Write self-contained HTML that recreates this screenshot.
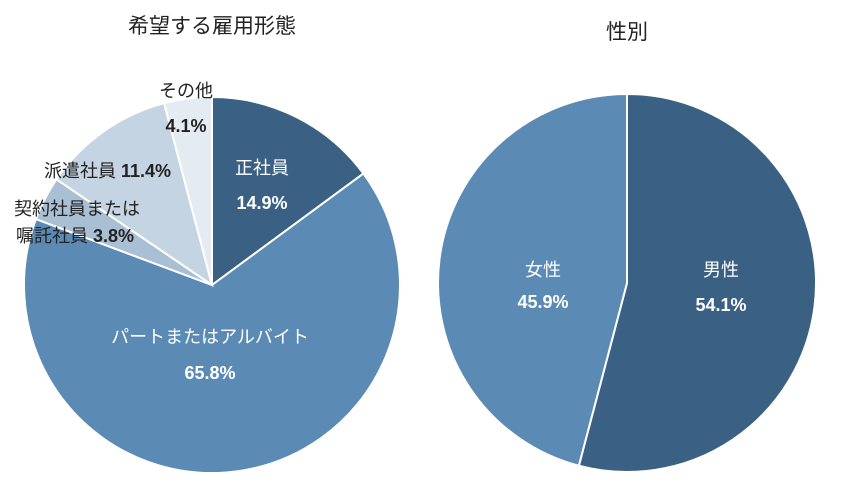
<!DOCTYPE html>
<html><head><meta charset="utf-8"><style>
body{margin:0;background:#fff;width:849px;height:494px;overflow:hidden;font-family:"Liberation Sans","Noto Sans CJK JP",sans-serif}
svg text{font-family:"Liberation Sans","Noto Sans CJK JP",sans-serif}
</style></head><body>
<svg id="c" width="849" height="494">
<text x="212" y="33" text-anchor="middle" font-size="21" fill="#222">希望する雇用形態</text>
<text x="627" y="39" text-anchor="middle" font-size="21" fill="#222">性別</text>
</svg>
<script>
const empCategories=["正社員","パートまたはアルバイト","契約社員または嘱託社員","派遣社員","その他"];
const empValues=[14.9,65.8,3.8,11.4,4.1];
const genderCategories=["男性","女性"];
const genderValues=[54.1,45.9];
const empColors=["#3a6184","#5b8bb5","#a9bfd4","#c4d4e3","#e4ebf3"];
const genderColors=["#3a6184","#5b8bb5"];
const svg=document.getElementById('c');
const NS="http://www.w3.org/2000/svg";
function pie(vals,cats,colors,cx,cy,r,prefix){
  const tot=vals.reduce((a,b)=>a+b,0);let a0=0;
  vals.forEach((v,i)=>{
    const a1=a0+v/tot*2*Math.PI;
    const x0=cx+r*Math.sin(a0),y0=cy-r*Math.cos(a0),x1=cx+r*Math.sin(a1),y1=cy-r*Math.cos(a1);
    const p=document.createElementNS(NS,'path');
    p.setAttribute('d',`M${cx},${cy}L${x0},${y0}A${r},${r} 0 ${a1-a0>Math.PI?1:0} 1 ${x1},${y1}Z`);
    p.setAttribute('fill',colors[i]);p.setAttribute('stroke','#fff');p.setAttribute('stroke-width','2');
    
    
    svg.appendChild(p);a0=a1;
  });
}
pie(empValues,empCategories,empColors,212,285,188,'employment');
pie(genderValues,genderCategories,genderColors,627,283,189,'gender');
function t(x,y,s,fill,bold,name,anchor,boldTail){
  const e=document.createElementNS(NS,'text');
  e.setAttribute('x',x);e.setAttribute('y',y);e.setAttribute('font-size','18');
  e.setAttribute('fill',fill);e.setAttribute('text-anchor',anchor||'middle');
  if(bold)e.setAttribute('font-weight','bold');
  e.textContent=s;
  if(boldTail){const ts=document.createElementNS(NS,'tspan');ts.setAttribute('font-weight','bold');ts.textContent=boldTail;e.appendChild(ts);}
  
  
  svg.appendChild(e);
}
t(262,174,empCategories[0],"#fff",false,"label-seishain");
t(262,209,empValues[0].toFixed(1)+"%","#fff",true,"value-seishain");
t(210,343,empCategories[1],"#fff",false,"label-part");
t(210,379,empValues[1].toFixed(1)+"%","#fff",true,"value-part");
t(14,215,"契約社員または","#222",false,"label-keiyaku-1","start");
t(16,242,"嘱託社員 ","#222",false,"label-keiyaku-2","start",empValues[2].toFixed(1)+"%");
t(44,177,"派遣社員 ","#222",false,"label-haken","start",empValues[3].toFixed(1)+"%");
t(186,97,empCategories[4],"#222",false,"label-sonota");
t(186,132,empValues[4].toFixed(1)+"%","#222",true,"value-sonota");
t(721,276,genderCategories[0],"#fff",false,"label-male");
t(721,311,genderValues[0].toFixed(1)+"%","#fff",true,"value-male");
t(543,276,genderCategories[1],"#fff",false,"label-female");
t(543,308,genderValues[1].toFixed(1)+"%","#fff",true,"value-female");
</script>
</body></html>
